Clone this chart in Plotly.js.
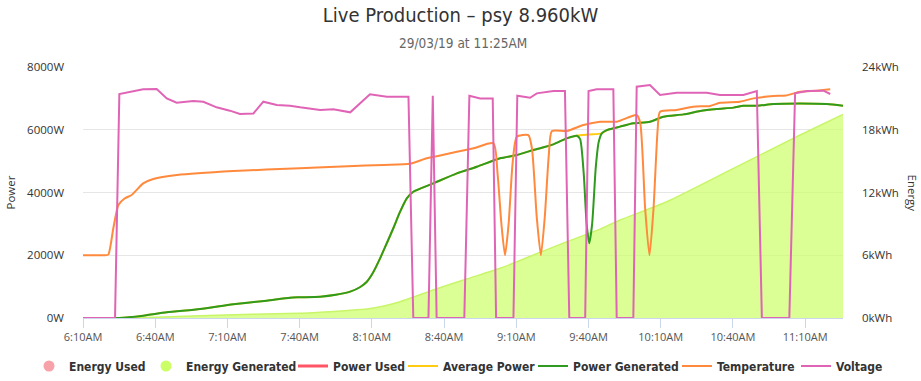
<!DOCTYPE html>
<html>
<head>
<meta charset="utf-8">
<script src="https://cdn.plot.ly/plotly-3.0.1.min.js"></script>
<style>
html,body{margin:0;padding:0;background:#fff;}
#chart{width:921px;height:381px;}
</style>
</head>
<body>
<div id="chart"></div>
<script>
var DAY = '2019-03-29 ';

// Energy Generated (kWh, right axis)
var energyGenTimes = ['06:10:00','06:25:00','06:40:00','06:58:36','07:20:00','07:40:12','07:48:30','08:00:00','08:07:54','08:15:00','08:21:42','08:28:00','08:35:30','08:49:24','09:03:12','09:17:06','09:31:00','09:44:48','09:53:06','10:12:30','10:40:12','11:07:54','11:25:42'];
var energyGenValues = [0,0,0.08,0.22,0.35,0.45,0.55,0.72,0.86,1.15,1.56,2.05,2.68,3.73,4.75,6.02,7.29,8.5,9.37,11.12,14.31,17.5,19.47];

// Power Generated (W)
var powerGenTimes = ['06:10:00','06:25:00','06:35:00','06:44:48','06:58:36','07:12:24','07:26:18','07:36:00','07:40:12','07:48:30','07:55:00','08:01:00','08:05:00','08:07:54','08:10:30','08:13:24','08:16:00','08:18:54','08:21:30','08:24:30','08:27:12','08:35:30','08:45:18','08:53:36','09:03:12','09:10:12','09:17:06','09:25:24','09:30:54','09:35:06','09:36:30','09:38:00','09:39:12','09:40:18','09:41:30','09:43:00','09:44:12','09:45:30','09:47:36','09:50:18','09:53:06','09:58:36','10:05:30','10:11:06','10:19:24','10:26:24','10:33:18','10:40:12','10:44:18','10:50:00','10:56:48','11:07:54','11:19:00','11:25:42'];
var powerGenValues = [0,0,75,180,287,435,553,648,660,680,740,840,980,1157,1450,1900,2350,2860,3350,3815,4025,4290,4610,4822,5090,5195,5354,5535,5727,5810,5700,4600,3000,2380,3000,4800,5600,5885,5990,6045,6100,6205,6257,6416,6490,6597,6660,6705,6765,6765,6820,6840,6820,6765];

// Average Power (W)
var avgPowerTimes = ['06:10:00','06:25:00','06:35:00','06:44:48','06:58:36','07:12:24','07:26:18','07:36:00','07:40:12','07:48:30','07:55:00','08:01:00','08:05:00','08:07:54','08:10:30','08:13:24','08:16:00','08:18:54','08:21:30','08:24:30','08:27:12','08:35:30','08:45:18','08:53:36','09:03:12','09:10:12','09:17:06','09:25:24','09:30:54','09:35:06','09:40:18','09:45:30','09:47:36','09:50:18','09:53:06','09:58:36','10:05:30','10:11:06','10:19:24','10:26:24','10:33:18','10:40:12','10:44:18','10:50:00','10:56:48','11:07:54','11:19:00','11:25:42'];
var avgPowerValues = [0,0,75,180,287,435,553,648,660,680,740,840,980,1157,1450,1900,2350,2860,3350,3815,4025,4290,4610,4822,5090,5195,5354,5535,5727,5810,5850,5885,5990,6045,6100,6205,6257,6416,6490,6597,6660,6705,6765,6765,6820,6840,6820,6765];

// Temperature (plotted on power scale)
var tempTimes = ['06:10:00','06:19:00','06:20:30','06:22:36','06:24:42','06:27:24','06:30:12','06:35:00','06:39:12','06:49:00','07:12:30','07:40:00','08:00:00','08:15:00','08:25:54','08:32:48','08:42:30','08:52:12','09:00:30','09:02:12','09:03:48','09:05:18','09:06:48','09:08:18','09:09:30','09:10:12','09:15:00','09:16:30','09:18:30','09:20:12','09:21:48','09:23:30','09:24:48','09:31:00','09:37:54','09:44:48','09:51:42','09:57:18','10:00:00','10:01:30','10:03:30','10:05:18','10:07:00','10:08:42','10:09:42','10:16:36','10:23:30','10:30:30','10:34:36','10:42:54','10:48:30','10:56:48','11:02:00','11:07:54','11:14:48','11:20:24'];
var tempValues = [2000,2000,2020,2860,3600,3815,3920,4290,4430,4557,4685,4770,4840,4880,4918,5090,5250,5408,5568,4600,3000,2000,3000,4800,5600,5780,5830,5400,3200,2000,3200,5200,5960,5960,6150,6257,6257,6416,6470,6200,3500,2000,3500,6000,6576,6630,6735,6760,6862,6895,7000,7075,7090,7213,7245,7288];

// Voltage (plotted on power scale)
var voltTimes = ['06:10:00','06:23:18','06:25:06','06:30:54','06:35:00','06:40:36','06:44:48','06:48:54','06:55:48','07:00:00','07:05:30','07:11:00','07:15:12','07:20:48','07:24:54','07:30:30','07:36:00','07:40:12','07:48:30','07:54:00','08:01:00','08:09:12','08:16:12','08:25:12','08:27:12','08:33:30','08:35:18','08:36:54','08:48:24','08:50:30','08:55:00','09:00:12','09:01:36','09:08:48','09:10:24','09:15:42','09:18:30','09:25:24','09:30:12','09:32:00','09:38:36','09:40:00','09:43:24','09:50:18','09:51:42','09:58:36','10:00:00','10:05:30','10:09:42','10:16:36','10:29:06','10:34:36','10:44:18','10:49:54','10:52:00','11:03:24','11:05:48','11:10:42','11:17:36','11:20:24'];
var voltValues = [0,0,7139,7213,7288,7298,7000,6862,6915,6890,6715,6608,6502,6520,6895,6788,6768,6715,6630,6650,6555,7128,7053,7053,0,0,7085,0,0,7085,7000,7000,0,0,7085,7020,7160,7235,7235,0,0,7235,7288,7288,0,0,7373,7426,7107,7181,7181,7107,7107,7235,0,0,7160,7235,7245,7139];

var xStart = '06:10:00';
var xEnd = '11:25:42';
var powerTicks = [0,2000,4000,6000,8000];
var powerTickLabels = ['0W','2000W','4000W','6000W','8000W'];
var energyTicks = [0,6,12,18,24];
var energyTickLabels = ['0kWh','6kWh','12kWh','18kWh','24kWh'];

function full(ts){ return ts.map(function(t){ return DAY + t; }); }

var COND = '"DejaVu Sans Condensed", "Liberation Sans Narrow", "DejaVu Sans", sans-serif';
var REG = '"Open Sans", "DejaVu Sans", sans-serif';

var traces = [
  {name:'Energy Used', legend:'legend', type:'scatter', mode:'markers', x:[null], y:[null],
   marker:{color:'#f7a1a9', size:11, symbol:'circle'}, yaxis:'y'},
  {name:'Energy Generated', legend:'legend2', type:'scatter', mode:'markers', x:[null], y:[null],
   marker:{color:'#ccff66', size:11, symbol:'circle'}, yaxis:'y'},
  {name:'Energy Generated', showlegend:false, type:'scatter', mode:'lines',
   x:full(energyGenTimes), y:energyGenValues, yaxis:'y',
   fill:'tozeroy', fillcolor:'rgba(204,255,102,0.7)',
   line:{color:'#c8f56a', width:1.5, shape:'spline', smoothing:0.6}},
  {name:'Power Used', legend:'legend3', type:'scatter', mode:'lines', x:[null], y:[null], yaxis:'y2',
   line:{color:'#ff5566', width:3}},
  {name:'Average Power', legend:'legend4', type:'scatter', mode:'lines', x:full(avgPowerTimes), y:avgPowerValues, yaxis:'y2',
   line:{color:'#ffcc11', width:2, shape:'spline', smoothing:0.6}},
  {name:'Power Generated', legend:'legend5', type:'scatter', mode:'lines', x:full(powerGenTimes), y:powerGenValues, yaxis:'y2',
   line:{color:'#2e9a1f', width:2, shape:'spline', smoothing:0.6}},
  {name:'Temperature', legend:'legend6', type:'scatter', mode:'lines', x:full(tempTimes), y:tempValues, yaxis:'y2',
   line:{color:'#ff8a3d', width:2, shape:'spline', smoothing:0.6}},
  {name:'Voltage', legend:'legend7', type:'scatter', mode:'lines', x:full(voltTimes), y:voltValues, yaxis:'y2',
   line:{color:'#e064b6', width:2, shape:'linear'}}
];

var PL = 83, PW = 760;
function legendAt(textStart){
  return {orientation:'h', xref:'paper', x:(textStart - 40 - PL)/PW, xanchor:'left',
          y:(318-366)/251, yanchor:'middle', bgcolor:'rgba(0,0,0,0)', borderwidth:0,
          font:{family:COND, size:12, color:'#333', weight:'bold'}, itemwidth:30};
}

var layout = {
  width:921, height:381,
  margin:{l:83, r:78, t:67, b:63, autoexpand:false},
  paper_bgcolor:'#fff', plot_bgcolor:'#fff',
  showlegend:true,
  hovermode:false,
  title:{text:'Live Production – psy 8.960kW', x:0.5, xanchor:'center', y:1-15/381, yanchor:'middle', yref:'container',
         font:{family:COND, size:20, color:'#333'}},
  xaxis:{type:'date', range:[DAY+xStart, DAY+xEnd],
         tick0:DAY+xStart, dtick:30*60*1000, tickformat:'%-I:%M%p',
         showgrid:false, zeroline:false,
         showline:true, linecolor:'#ccd6eb', linewidth:1,
         ticks:'outside', ticklen:9, tickcolor:'#ccd6eb', tickwidth:1,
         tickfont:{family:REG, size:11, color:'#555'}},
  yaxis:{range:[0,24], tickmode:'array', tickvals:energyTicks, ticktext:energyTickLabels, side:'right',
         showgrid:true, gridcolor:'#e6e6e6', ticklabelstandoff:18,
         zeroline:false, showline:false, ticks:'', tickfont:{family:REG, size:11.5, color:'#333'}},
  yaxis2:{range:[0,8000], tickmode:'array', tickvals:powerTicks, ticktext:powerTickLabels, overlaying:'y', side:'left',
          ticklabelstandoff:18,
          showgrid:false, zeroline:false, showline:false, ticks:'', tickfont:{family:REG, size:11.5, color:'#333'}},
  legend:legendAt(69),
  legend2:legendAt(186),
  legend3:legendAt(333),
  legend4:legendAt(443),
  legend5:legendAt(573),
  legend6:legendAt(717),
  legend7:legendAt(836),
  annotations:[
    {text:'29/03/19 at 11:25AM', xref:'paper', yref:'paper', x:0.5, y:(318-43)/251, xanchor:'center', yanchor:'middle',
     showarrow:false, font:{family:COND, size:13.5, color:'#666'}},
    {text:'Power', xref:'paper', yref:'paper', x:(10-83)/760, y:0.5, xanchor:'center', yanchor:'middle', textangle:-90,
     showarrow:false, font:{family:REG, size:11.5, color:'#333'}},
    {text:'Energy', xref:'paper', yref:'paper', x:(912-83)/760, y:0.5, xanchor:'center', yanchor:'middle', textangle:90,
     showarrow:false, font:{family:REG, size:11.5, color:'#333'}}
  ]
};

Plotly.newPlot('chart', traces, layout, {displayModeBar:false, staticPlot:true});
</script>
</body>
</html>
